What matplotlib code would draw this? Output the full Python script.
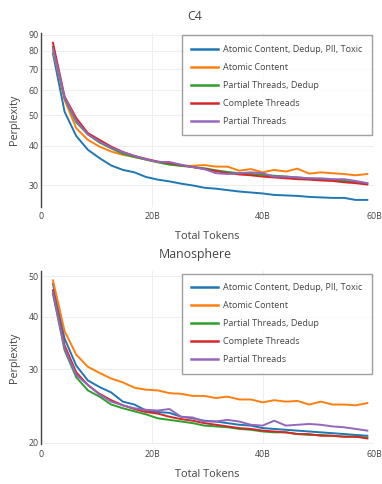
import matplotlib
matplotlib.use("Agg")
import matplotlib.pyplot as plt
from matplotlib.ticker import FixedLocator, NullLocator, FixedFormatter

plt.rcParams['font.family'] = ['Open Sans', 'DejaVu Sans']

# token counts (billions) at each checkpoint
tokens_b = [2.1, 4.2, 6.3, 8.4, 10.5, 12.6, 14.7, 16.8, 18.9, 21.0, 23.1, 25.2, 27.3, 29.4,
            31.5, 33.6, 35.7, 37.8, 39.9, 42.0, 44.1, 46.2, 48.3, 50.4, 52.5, 54.6, 56.7, 58.8]

series_names = ["Atomic Content, Dedup, PII, Toxic", "Atomic Content",
                "Partial Threads, Dedup", "Complete Threads", "Partial Threads"]
series_colors = ["#1f77b4", "#ff7f0e", "#2ca02c", "#d62728", "#9467bd"]

# C4 perplexity
c4_atomic_dedup = [78.5, 51.3, 43.0, 38.9, 36.6, 34.7, 33.6, 33.0, 31.9, 31.3, 30.9, 30.4, 30.0, 29.5,
                   29.3, 29.0, 28.7, 28.5, 28.3, 28.0, 27.9, 27.8, 27.6, 27.5, 27.4, 27.4, 27.0, 27.0]
c4_atomic = [80.4, 55.9, 45.5, 41.8, 39.8, 38.4, 37.5, 36.9, 36.2, 35.6, 35.3, 34.6, 34.6, 34.8,
             34.4, 34.4, 33.4, 33.8, 33.0, 33.6, 33.2, 33.9, 32.7, 33.0, 32.8, 32.6, 32.3, 32.6]
c4_partial_dedup = [82.3, 56.6, 47.5, 43.5, 41.0, 39.3, 37.8, 36.9, 36.2, 35.5, 34.9, 34.6, 34.3, 34.0,
                    33.5, 33.1, 32.8, 32.6, 32.4, 32.2, 32.0, 31.8, 31.6, 31.4, 31.3, 31.0, 30.8, 30.5]
c4_complete = [84.8, 57.3, 49.0, 43.9, 41.8, 39.8, 38.3, 37.2, 36.4, 35.7, 35.3, 34.8, 34.3, 33.8,
               33.3, 32.8, 32.5, 32.3, 32.0, 31.8, 31.6, 31.4, 31.3, 31.1, 31.0, 30.7, 30.5, 30.2]
c4_partial = [81.4, 57.0, 48.0, 43.5, 41.3, 39.5, 38.2, 37.2, 36.3, 35.6, 35.6, 34.9, 34.3, 33.8,
              32.8, 32.6, 32.8, 33.0, 32.8, 32.0, 32.0, 31.8, 31.6, 31.6, 31.4, 31.4, 31.0, 30.5]

# Manosphere perplexity
man_atomic_dedup = [48.0, 35.5, 30.6, 28.2, 27.2, 26.4, 25.1, 24.7, 23.9, 23.7, 23.6, 23.1, 22.9, 22.6,
                    22.5, 22.3, 22.1, 22.0, 21.7, 21.6, 21.5, 21.4, 21.3, 21.2, 21.1, 21.0, 20.9, 20.8]
man_atomic = [48.9, 37.0, 32.5, 30.4, 29.4, 28.5, 27.9, 27.1, 26.8, 26.7, 26.3, 26.2, 25.9, 25.9,
              25.6, 25.8, 25.4, 25.4, 25.0, 25.3, 25.1, 25.2, 24.7, 25.1, 24.7, 24.7, 24.6, 24.9]
man_partial_dedup = [45.4, 33.3, 28.7, 26.7, 25.8, 24.7, 24.2, 23.8, 23.4, 22.9, 22.7, 22.5, 22.3, 22.0,
                     21.9, 21.8, 21.6, 21.5, 21.3, 21.2, 21.2, 21.0, 20.9, 20.9, 20.8, 20.7, 20.7, 20.6]
man_complete = [46.3, 34.2, 29.5, 27.5, 26.2, 25.3, 24.6, 24.1, 23.7, 23.5, 23.1, 22.8, 22.6, 22.3,
                22.1, 21.9, 21.7, 21.6, 21.4, 21.3, 21.2, 21.0, 21.0, 20.8, 20.8, 20.7, 20.7, 20.5]
man_partial = [45.9, 33.6, 29.1, 27.5, 26.1, 25.1, 24.6, 24.2, 24.0, 23.9, 24.1, 23.1, 23.0, 22.5,
               22.5, 22.7, 22.5, 22.1, 22.0, 22.6, 22.0, 22.1, 22.2, 22.1, 21.9, 21.8, 21.6, 21.4]

x_ticks = [0, 20, 40, 60]
x_tick_labels = ["0", "20B", "40B", "60B"]
c4_yticks = [30, 40, 50, 60, 70, 80, 90]
man_yticks = [20, 30, 40, 50]

TXT = "#444444"
W, H = 382, 484

fig = plt.figure(figsize=(W / 100, H / 100), dpi=100)


def panel(rect, title, data, yticks, ylim):
    ax = fig.add_axes(rect)
    for vals, name, col in zip(data, series_names, series_colors):
        ax.plot(tokens_b, vals, color=col, lw=1.4, label=name, solid_joinstyle='round')
    ax.set_yscale('log')
    ax.set_ylim(*ylim)
    ax.set_xlim(0, 60)
    ax.yaxis.set_major_locator(FixedLocator(yticks))
    ax.yaxis.set_major_formatter(FixedFormatter([str(t) for t in yticks]))
    ax.yaxis.set_minor_locator(NullLocator())
    ax.set_xticks(x_ticks)
    ax.set_xticklabels(x_tick_labels)
    ax.tick_params(length=0, labelsize=6.3, colors=TXT, pad=2)
    ax.tick_params(axis='x', pad=4)
    ax.grid(True, color='#eeeeee', lw=0.8)
    ax.set_axisbelow(True)
    for s in ['top', 'right', 'bottom']:
        ax.spines[s].set_visible(False)
    ax.spines['left'].set_color(TXT)
    ax.spines['left'].set_linewidth(1)
    ax.set_xlabel("Total Tokens", fontsize=7.8, color=TXT, labelpad=7)
    ax.set_ylabel("Perplexity", fontsize=7.8, color=TXT, labelpad=6)
    leg = ax.legend(loc='upper left', bbox_to_anchor=(0.422, 0.987), borderaxespad=0,
                    fontsize=6.5, frameon=True, fancybox=False, handlelength=3.0,
                    handletextpad=0.55, labelspacing=1.0, borderpad=1.05, labelcolor=TXT)
    leg.get_frame().set_edgecolor('#888888')
    leg.get_frame().set_linewidth(1)
    for line in leg.get_lines():
        line.set_linewidth(1.8)
    top_px = (1 - rect[1] - rect[3]) * H
    fig.text(195 / W, 1 - (top_px - 16.5) / H, title, ha='center', va='center',
             fontsize=8.9, color=TXT)
    return ax


panel([41.3 / W, 1 - 206.7 / H, (374 - 41.3) / W, (206.7 - 33) / H], "C4",
      [c4_atomic_dedup, c4_atomic, c4_partial_dedup, c4_complete, c4_partial],
      c4_yticks, (25.7, 91))
panel([41.3 / W, 1 - 444.3 / H, (374 - 41.3) / W, (444.3 - 271.3) / H], "Manosphere",
      [man_atomic_dedup, man_atomic, man_partial_dedup, man_complete, man_partial],
      man_yticks, (19.85, 51.4))

fig.savefig("out.png", dpi=100)
